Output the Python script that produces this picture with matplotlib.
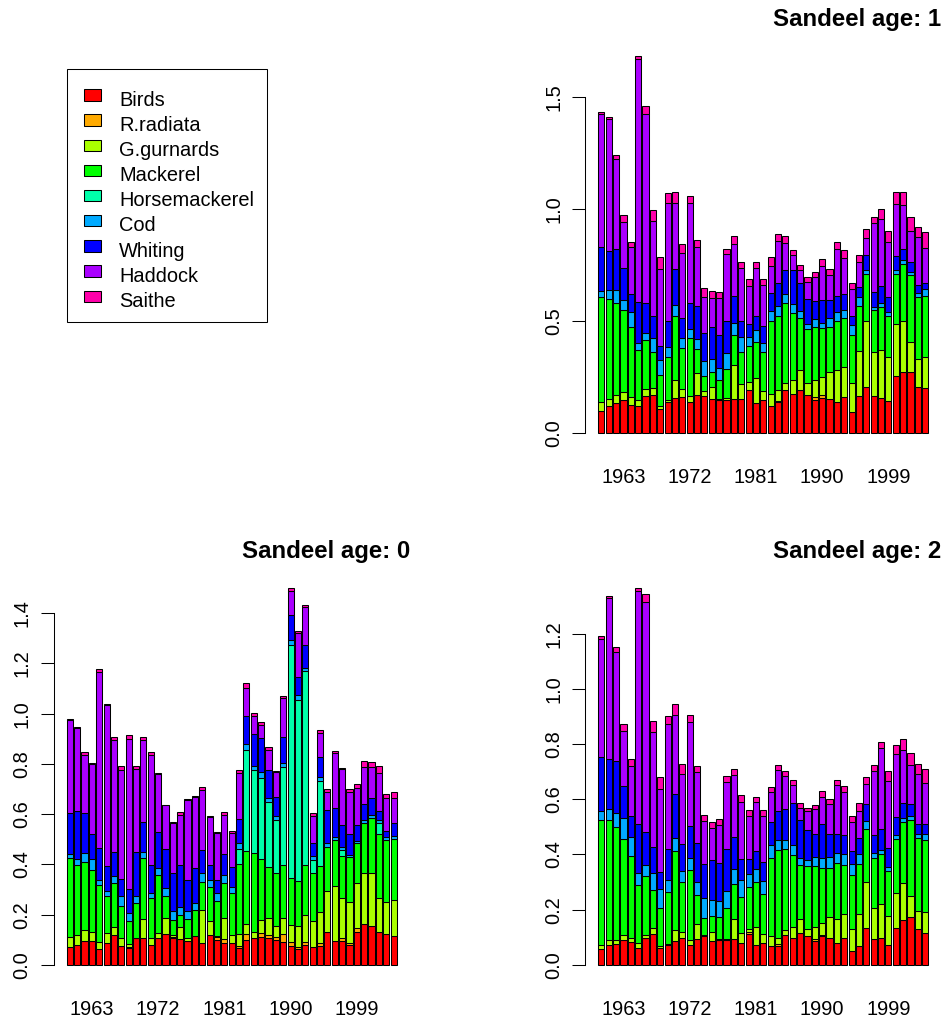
import numpy as np
import matplotlib.pyplot as plt
from matplotlib.patches import Rectangle

plt.rcParams['font.family'] = ['Liberation Sans', 'DejaVu Sans']
plt.rcParams['font.size'] = 14.4

years = list(range(1960, 2005))
label_years = [1963, 1972, 1981, 1990, 1999]
species = ['Birds', 'R.radiata', 'G.gurnards', 'Mackerel', 'Horsemackerel',
           'Cod', 'Whiting', 'Haddock', 'Saithe']
# R rainbow(9)
colors = ['#FF0000', '#FFAA00', '#AAFF00', '#00FF00', '#00FFAA',
          '#00AAFF', '#0000FF', '#AA00FF', '#FF00AA']

# ---- Sandeel age 1
a1_birds = [0.100, 0.119, 0.133, 0.148, 0.126, 0.119, 0.163, 0.170, 0.107, 0.136, 0.156, 0.160, 0.138, 0.170, 0.166,
            0.151, 0.148, 0.148, 0.153, 0.153, 0.190, 0.133, 0.148, 0.119, 0.136, 0.190, 0.173, 0.193, 0.170, 0.148,
            0.156, 0.153, 0.136, 0.160, 0.092, 0.166, 0.207, 0.166, 0.156, 0.141, 0.255, 0.270, 0.274, 0.207, 0.200]
a1_rradiata = [0]*24 + [0.007, 0, 0, 0, 0, 0.012, 0.015] + [0]*14
a1_gurnards = [0.036, 0.033, 0.037, 0.033, 0.034, 0.027, 0.033, 0.030, 0.015, 0.012, 0.081, 0.036, 0.028, 0.099, 0.019,
               0.056, 0.003, 0.007, 0.151, 0.065, 0.036, 0.111, 0.041, 0.056, 0.047, 0.033, 0.064, 0.089, 0.052, 0.077,
               0.079, 0.117, 0.145, 0.133, 0.133, 0.201, 0.292, 0.193, 0.212, 0.197, 0.231, 0.230, 0.133, 0.123, 0.138]
a1_mackerel = [0.470, 0.444, 0.410, 0.367, 0.311, 0.222, 0.219, 0.163, 0.138, 0.190, 0.284, 0.182, 0.256, 0.104, 0.067,
               0.064, 0.086, 0.130, 0.133, 0.145, 0.160, 0.163, 0.173, 0.326, 0.333, 0.356, 0.299, 0.230, 0.244, 0.234,
               0.218, 0.201, 0.218, 0.221, 0.212, 0.199, 0.212, 0.190, 0.196, 0.184, 0.225, 0.253, 0.296, 0.277, 0.273]
a1_horse = [0]*45
a1_cod = [0.027, 0.044, 0.056, 0.047, 0.070, 0.033, 0.033, 0.059, 0.064, 0.047, 0.049, 0.044, 0.043, 0.044, 0.067,
          0.058, 0.052, 0.070, 0.052, 0.067, 0.044, 0.052, 0.040, 0.044, 0.044, 0.041, 0.039, 0.030, 0.022, 0.036,
          0.022, 0.040, 0.041, 0.034, 0.044, 0.041, 0.018, 0.015, 0.015, 0.019, 0.015, 0.018, 0.015, 0.019, 0.030]
a1_whiting = [0.196, 0.172, 0.185, 0.142, 0.079, 0.185, 0.130, 0.099, 0.065, 0.116, 0.163, 0.093, 0.116, 0.148, 0.129,
              0.145, 0.148, 0.144, 0.121, 0.071, 0.055, 0.062, 0.074, 0.080, 0.104, 0.107, 0.151, 0.129, 0.108, 0.083,
              0.104, 0.084, 0.070, 0.071, 0.040, 0.044, 0.067, 0.064, 0.077, 0.067, 0.062, 0.052, 0.044, 0.036, 0.030]
a1_haddock = [0.593, 0.588, 0.400, 0.203, 0.210, 1.081, 0.844, 0.424, 0.341, 0.526, 0.293, 0.289, 0.446, 0.264, 0.160,
              0.126, 0.163, 0.300, 0.234, 0.233, 0.172, 0.216, 0.185, 0.119, 0.185, 0.119, 0.070, 0.056, 0.077, 0.104,
              0.153, 0.108, 0.212, 0.163, 0.123, 0.111, 0.076, 0.310, 0.301, 0.244, 0.234, 0.193, 0.138, 0.212, 0.153]
a1_saithe = [0.010, 0.010, 0.018, 0.033, 0.022, 0.015, 0.037, 0.050, 0.053, 0.043, 0.050, 0.040, 0.030, 0.030, 0.037,
             0.034, 0.027, 0.022, 0.034, 0.030, 0.028, 0.025, 0.027, 0.039, 0.034, 0.033, 0.022, 0.022, 0.022, 0.025,
             0.028, 0.028, 0.030, 0.033, 0.025, 0.034, 0.036, 0.027, 0.044, 0.049, 0.052, 0.059, 0.062, 0.047, 0.071]

# ---- Sandeel age 0
a0_birds = [0.073, 0.080, 0.096, 0.096, 0.062, 0.089, 0.119, 0.076, 0.066, 0.106, 0.106, 0.080, 0.106, 0.122, 0.106,
            0.102, 0.097, 0.115, 0.086, 0.119, 0.100, 0.086, 0.086, 0.066, 0.100, 0.106, 0.113, 0.106, 0.100, 0.093,
            0.076, 0.062, 0.080, 0.073, 0.076, 0.133, 0.097, 0.097, 0.080, 0.133, 0.163, 0.155, 0.133, 0.123, 0.115]
a0_rradiata = [0, 0, 0, 0, 0, 0, 0, 0, 0.004, 0, 0, 0, 0, 0, 0.004, 0, 0, 0, 0, 0, 0.010, 0.016, 0, 0.009, 0.024,
               0, 0.016, 0.013, 0.013, 0.029, 0.017, 0.011, 0.013, 0, 0.011, 0, 0, 0.009, 0.009, 0.013, 0, 0, 0, 0, 0]
a0_gurnards = [0.040, 0.040, 0.044, 0.037, 0.030, 0.037, 0.031, 0.031, 0.013, 0.003, 0.076, 0.029, 0.023, 0.064, 0.009,
               0.048, 0.009, 0.000, 0.133, 0.057, 0.007, 0.084, 0.033, 0.048, 0.040, 0.027, 0.048, 0.069, 0.042, 0.066,
               0.066, 0.082, 0.106, 0.100, 0.122, 0.163, 0.218, 0.159, 0.163, 0.179, 0.204, 0.210, 0.133, 0.129, 0.143]
a0_mackerel = [0.312, 0.279, 0.269, 0.245, 0.226, 0.149, 0.178, 0.126, 0.093, 0.139, 0.243, 0.159, 0.230, 0.089, 0.060,
               0.049, 0.076, 0.104, 0.113, 0.135, 0.137, 0.139, 0.166, 0.279, 0.291, 0.312, 0.244, 0.200, 0.210, 0.210,
               0.186, 0.180, 0.199, 0.192, 0.183, 0.175, 0.183, 0.169, 0.176, 0.159, 0.196, 0.219, 0.256, 0.245, 0.242]
a0_horse = [0]*23 + [0.058, 0.402, 0.332, 0.322, 0.261, 0.212, 0.391, 0.929, 0.719, 0.770, 0.053, 0.342,
                     0, 0, 0.024, 0, 0, 0, 0, 0.042, 0, 0]
a0_cod = [0.017, 0.023, 0.038, 0.042, 0.020, 0.021, 0.024, 0.040, 0.029, 0.027, 0.023, 0.017, 0.027, 0.031, 0.036,
          0.033, 0.031, 0.029, 0.033, 0.027, 0.032, 0.033, 0.024, 0.024, 0.024, 0.016, 0.024, 0.017, 0.016, 0.016,
          0.020, 0.020, 0.013, 0.016, 0.016, 0.016, 0.013, 0.011, 0.009, 0.011, 0.013, 0.013, 0.011, 0.013, 0.013]
a0_whiting = [0.162, 0.190, 0.157, 0.100, 0.129, 0.096, 0.096, 0.069, 0.096, 0.173, 0.121, 0.113, 0.143, 0.155, 0.150,
              0.166, 0.126, 0.137, 0.093, 0.060, 0.053, 0.084, 0.082, 0.096, 0.109, 0.127, 0.135, 0.111, 0.077, 0.104,
              0.100, 0.073, 0.093, 0.053, 0.076, 0.130, 0.113, 0.089, 0.086, 0.062, 0.066, 0.066, 0.036, 0.024, 0.053]
a0_haddock = [0.372, 0.332, 0.232, 0.281, 0.700, 0.644, 0.446, 0.435, 0.597, 0.332, 0.325, 0.438, 0.232, 0.174, 0.199,
              0.199, 0.318, 0.283, 0.239, 0.190, 0.186, 0.155, 0.133, 0.183, 0.113, 0.069, 0.053, 0.077, 0.097, 0.153,
              0.093, 0.173, 0.150, 0.106, 0.097, 0.073, 0.219, 0.222, 0.166, 0.146, 0.146, 0.126, 0.153, 0.129, 0.097]
a0_saithe = [0.003, 0.003, 0.013, 0.003, 0.009, 0.004, 0.013, 0.016, 0.016, 0.013, 0.013, 0.013, 0.003, 0.003, 0.003,
             0.013, 0.003, 0.003, 0.013, 0.004, 0.004, 0.013, 0.011, 0.013, 0.020, 0.013, 0.013, 0.013, 0.004, 0.007,
             0.013, 0.009, 0.009, 0.013, 0.011, 0.009, 0.009, 0.004, 0.011, 0.017, 0.024, 0.020, 0.027, 0.017, 0.027]

# ---- Sandeel age 2
a2_birds = [0.057, 0.073, 0.075, 0.091, 0.082, 0.060, 0.097, 0.112, 0.060, 0.073, 0.085, 0.097, 0.073, 0.094, 0.103,
            0.085, 0.091, 0.091, 0.093, 0.079, 0.112, 0.073, 0.079, 0.069, 0.069, 0.109, 0.097, 0.115, 0.103, 0.088,
            0.103, 0.097, 0.081, 0.099, 0.052, 0.069, 0.133, 0.093, 0.097, 0.073, 0.133, 0.163, 0.172, 0.131, 0.117]
a2_rradiata = [0]*20 + [0.006, 0, 0, 0, 0.005, 0, 0, 0, 0, 0.006, 0.006] + [0]*14
a2_gurnards = [0.016, 0.018, 0.016, 0.018, 0.015, 0.021, 0.012, 0.021, 0.008, 0.004, 0.042, 0.024, 0.016, 0.054, 0.006,
               0.036, 0.002, 0.002, 0.073, 0.036, 0.012, 0.064, 0.033, 0.034, 0.023, 0.016, 0.042, 0.051, 0.027, 0.045,
               0.042, 0.076, 0.086, 0.086, 0.079, 0.116, 0.166, 0.115, 0.123, 0.105, 0.127, 0.135, 0.076, 0.065, 0.076]
a2_mackerel = [0.453, 0.435, 0.407, 0.347, 0.298, 0.209, 0.214, 0.137, 0.137, 0.186, 0.286, 0.178, 0.256, 0.105, 0.060,
               0.057, 0.079, 0.112, 0.128, 0.131, 0.153, 0.162, 0.146, 0.284, 0.318, 0.295, 0.260, 0.197, 0.227, 0.218,
               0.199, 0.178, 0.202, 0.178, 0.196, 0.181, 0.193, 0.179, 0.182, 0.161, 0.197, 0.218, 0.278, 0.263, 0.260]
a2_horse = [0]*45
a2_cod = [0.030, 0.039, 0.054, 0.076, 0.070, 0.042, 0.040, 0.063, 0.069, 0.046, 0.046, 0.040, 0.042, 0.046, 0.073,
          0.058, 0.058, 0.064, 0.053, 0.063, 0.046, 0.050, 0.045, 0.048, 0.036, 0.034, 0.036, 0.024, 0.024, 0.034,
          0.036, 0.040, 0.036, 0.039, 0.040, 0.036, 0.031, 0.018, 0.015, 0.015, 0.012, 0.016, 0.012, 0.016, 0.021]
a2_whiting = [0.196, 0.181, 0.187, 0.117, 0.075, 0.179, 0.118, 0.094, 0.064, 0.111, 0.161, 0.099, 0.117, 0.144, 0.124,
              0.145, 0.139, 0.150, 0.118, 0.073, 0.054, 0.065, 0.069, 0.082, 0.105, 0.111, 0.151, 0.137, 0.106, 0.085,
              0.124, 0.083, 0.070, 0.070, 0.045, 0.057, 0.060, 0.066, 0.076, 0.070, 0.066, 0.054, 0.046, 0.035, 0.036]
a2_haddock = [0.429, 0.584, 0.394, 0.200, 0.181, 0.842, 0.834, 0.417, 0.298, 0.453, 0.286, 0.255, 0.375, 0.257, 0.157,
              0.115, 0.139, 0.243, 0.224, 0.209, 0.157, 0.176, 0.167, 0.108, 0.151, 0.118, 0.066, 0.045, 0.069, 0.087,
              0.097, 0.109, 0.178, 0.153, 0.106, 0.097, 0.071, 0.230, 0.292, 0.242, 0.228, 0.193, 0.139, 0.182, 0.149]
a2_saithe = [0.010, 0.008, 0.018, 0.023, 0.025, 0.012, 0.029, 0.041, 0.046, 0.030, 0.040, 0.036, 0.028, 0.021, 0.021,
             0.022, 0.021, 0.021, 0.022, 0.024, 0.022, 0.018, 0.021, 0.019, 0.016, 0.018, 0.018, 0.018, 0.012, 0.018,
             0.023, 0.018, 0.018, 0.022, 0.023, 0.030, 0.028, 0.022, 0.024, 0.036, 0.034, 0.039, 0.045, 0.036, 0.051]

age1 = [a1_birds, a1_rradiata, a1_gurnards, a1_mackerel, a1_horse, a1_cod, a1_whiting, a1_haddock, a1_saithe]
age0 = [a0_birds, a0_rradiata, a0_gurnards, a0_mackerel, a0_horse, a0_cod, a0_whiting, a0_haddock, a0_saithe]
age2 = [a2_birds, a2_rradiata, a2_gurnards, a2_mackerel, a2_horse, a2_cod, a2_whiting, a2_haddock, a2_saithe]

W, H = 948, 1026
fig = plt.figure(figsize=(W/100, H/100), dpi=100)


def px_axes(x0, y0, x1, y1):
	# axes from pixel box (top-left origin)
	return fig.add_axes([x0/W, 1 - y1/H, (x1 - x0)/W, (y1 - y0)/H])


def stacked(ax, data, title, yticks):
	n = len(years)
	x = 0.7 + 1.2*np.arange(n)   # R barplot, space=0.2
	bottom = np.zeros(n)
	for vals, col in zip(data, colors):
		vals = np.array(vals, dtype=float)
		ax.bar(x, vals, width=1.0, bottom=bottom, color=col,
			edgecolor='black', linewidth=0.75)
		bottom += vals
	top = bottom.max()
	ax.set_xlim(0.2 - 0.04*53.8, 54 + 0.04*53.8)
	ax.set_ylim(-0.04*top, 1.04*top)
	for s in ['top', 'right', 'bottom']:
		ax.spines[s].set_visible(False)
	ax.spines['left'].set_bounds(yticks[0], yticks[-1])
	ax.spines['left'].set_linewidth(0.75)
	ax.set_yticks(yticks)
	ax.set_yticklabels(['%.1f' % t for t in yticks], rotation=90, va='center')
	ax.tick_params(axis='y', length=9.4, width=0.75, pad=6.5, colors='black')
	idx = [years.index(y) for y in label_years]
	ax.set_xticks(x[idx])
	ax.set_xticklabels([str(y) for y in label_years])
	ax.tick_params(axis='x', length=0, pad=14.5)
	ax.set_title(title, loc='right', fontweight='bold', fontsize=17.3, pad=10.8)


ax1 = px_axes(585.1, 41, 941.5, 448)
stacked(ax1, age1, 'Sandeel age: 1', [0.0, 0.5, 1.0, 1.5])

ax0 = px_axes(53.5, 573, 409.9, 980)
stacked(ax0, age0, 'Sandeel age: 0', [0.0, 0.2, 0.4, 0.6, 0.8, 1.0, 1.2, 1.4])

ax2 = px_axes(585.1, 573, 941.5, 980)
stacked(ax2, age2, 'Sandeel age: 2', [0.0, 0.2, 0.4, 0.6, 0.8, 1.0, 1.2])

# legend panel (drawn in pixel coords)
lax = fig.add_axes([0, 0, 1, 1])
lax.set_xlim(0, W)
lax.set_ylim(H, 0)
lax.axis('off')
lax.add_patch(Rectangle((66.7, 69.3), 200, 252.4, fill=False, edgecolor='black', linewidth=0.75))
for k, (name, col) in enumerate(zip(species, colors)):
	yc = 95 + 25.15*k
	lax.add_patch(Rectangle((84, yc - 5.7), 16.7, 11.4, facecolor=col, edgecolor='black', linewidth=0.75))
	lax.text(119.3, yc + 10.7, name, fontsize=14.4, va='baseline', ha='left')

fig.savefig('out.png', dpi=100)
